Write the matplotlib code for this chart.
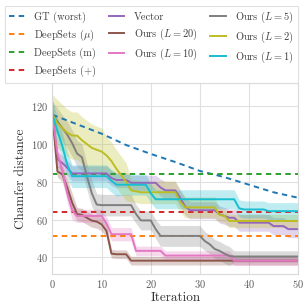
import numpy as np
import matplotlib
matplotlib.use("Agg")
import matplotlib.pyplot as plt

plt.rcParams.update({
    "font.family": "serif",
    "font.serif": ["cmr10"],
    "mathtext.fontset": "cm",
    "axes.formatter.use_mathtext": True,
    "axes.edgecolor": "0.85",
    "axes.linewidth": 0.8,
    "grid.color": "0.88",
    "grid.linewidth": 0.8,
    "text.color": "0.25",
    "axes.labelcolor": "0.2",
    "xtick.color": "0.35",
    "ytick.color": "0.35",
})

iters = np.arange(51)

# GT (worst): read every 5 iterations
gt_x = [0, 5, 10, 15, 20, 25, 30, 35, 40, 45, 50]
gt_y = [115.5, 110.5, 105.5, 99.5, 94.8, 90.5, 85.8, 82.5, 78.5, 74.5, 71.6]

deepsets_mu = 51.1
deepsets_m = 84.4
deepsets_plus = 64.0

vector = ([115, 92, 90, 87.5] + [84.5] * 8 + [82] + [81] * 3 + [79.5] * 6 + [77]
          + [75.5] * 3 + [71.5, 67] + [65] * 6 + [62.8, 62, 61, 61] + [58.4] * 7
          + [56.6] * 3 + [55] * 3)
vector_sd = [5] + [4] * 21 + [4.5] * 29

ours20 = ([115, 85.5, 84, 77, 69, 63, 62.5, 61, 59.5, 59, 57.5, 54, 42]
          + [41.7] * 3 + [38.3] * 35)
ours20_sd = [8, 3, 4, 5, 5] + [3.5] * 7 + [2.3] * 39

ours10 = ([115, 95, 86, 74, 65] + [62] * 6 + [58] + [52.3] * 5 + [43.5] * 6
          + [41] * 14 + [38.3] * 14)
ours10_sd = [6] + [5] * 4 + [3.5] * 12 + [2.5] * 34

ours5 = ([115.5, 112, 108.5, 105, 100.5, 95, 93, 83, 74, 68] + [67.7] * 7 + [63]
         + [59.6] * 3 + [55] + [51.4] * 9 + [48.7, 47, 44.5, 43.5, 42, 40.8]
         + [40.5] * 14)
ours5_sd = [7] * 9 + [5.7] * 8 + [5] * 5 + [5.5] * 9 + [5] * 6 + [3] * 14

ours2 = ([115.8, 111, 108.5, 106, 104.5, 104.5, 102, 100, 98, 97, 96, 94, 91, 87,
          83.5, 80, 75.5, 75] + [74.5] * 8 + [69.5] + [66.5] * 7 + [62.5, 62]
         + [59.3] * 15)
ours2_sd = [10] + [12.5] * 10 + [10] * 5 + [6] * 10 + [5.5] * 8 + [3.5] * 17

ours1 = ([115.5, 107, 99, 89] + [83] * 8 + [80.5] + [78.5] * 7 + [74]
         + [70.8] * 17 + [66] + [65.4] * 5 + [64.5] * 7)
ours1_sd = [8] + [7] * 3 + [6] * 10 + [5.5] * 6 + [5] * 18 + [4.5] * 13

series = [
    ("Vector", vector, vector_sd, "#9467bd"),
    (r"Ours ($L=20$)", ours20, ours20_sd, "#8c564b"),
    (r"Ours ($L=10$)", ours10, ours10_sd, "#e377c2"),
    (r"Ours ($L=5$)", ours5, ours5_sd, "#7f7f7f"),
    (r"Ours ($L=2$)", ours2, ours2_sd, "#bcbd22"),
    (r"Ours ($L=1$)", ours1, ours1_sd, "#17becf"),
]

fig = plt.figure(figsize=(3.07, 3.05), dpi=100)
ax = fig.add_axes([0.171, 0.102, 0.800, 0.625])
ax.grid(True)
ax.set_axisbelow(True)

dash = (2.8, 2.2)
lw = 1.4
ax.plot(gt_x, gt_y, color="#1f77b4", lw=lw, dashes=dash, label="GT (worst)")
ax.axhline(deepsets_mu, color="#ff7f0e", lw=lw, dashes=dash, label=r"DeepSets ($\mu$)")
ax.axhline(deepsets_m, color="#2ca02c", lw=lw, dashes=dash, label="DeepSets (m)")
ax.axhline(deepsets_plus, color="#d62728", lw=lw, dashes=dash, label=r"DeepSets ($+$)")

for name, m, sd, c in series:
    m = np.asarray(m, float)
    sd = np.asarray(sd, float)
    ax.fill_between(iters, m - sd, m + sd, color=c, alpha=0.28, lw=0)
    ax.plot(iters, m, color=c, lw=lw, label=name)

ax.set_xlim(0, 50)
ax.set_ylim(31.3, 132.2)
ax.set_xticks([0, 10, 20, 30, 40, 50])
ax.set_yticks([40, 60, 80, 100, 120])
ax.tick_params(labelsize=7.5, length=0, pad=3)
ax.set_xlabel("Iteration", fontsize=9.5, labelpad=1)
ax.set_ylabel("Chamfer distance", fontsize=9.5, labelpad=3)
for s in ax.spines.values():
    s.set_color("0.85")

h, l = ax.get_legend_handles_labels()
leg = fig.legend(h, l, loc="upper center", bbox_to_anchor=(0.4935, 0.998), ncol=3,
                 fontsize=7.5, handlelength=1.5, handletextpad=0.9,
                 columnspacing=1.2, labelspacing=0.45, borderpad=0.4,
                 frameon=True, fancybox=False, edgecolor="0.85")
leg.get_frame().set_linewidth(0.8)

fig.savefig("out.png", dpi=100)
